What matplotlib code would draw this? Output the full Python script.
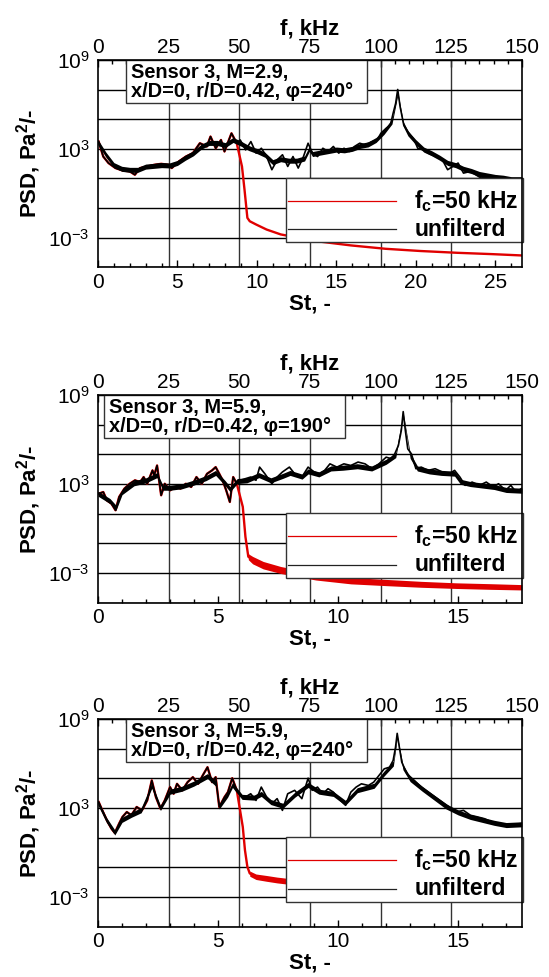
import numpy as np
import matplotlib
matplotlib.use('Agg')
import matplotlib.pyplot as plt
from matplotlib.patches import Rectangle
from matplotlib.ticker import FixedLocator, MultipleLocator, FuncFormatter

plt.rcParams['font.family'] = ['Liberation Sans', 'DejaVu Sans']
plt.rcParams['mathtext.fontset'] = 'custom'
plt.rcParams['mathtext.rm'] = 'Liberation Sans'
plt.rcParams['mathtext.bf'] = 'Liberation Sans:bold'
plt.rcParams['mathtext.it'] = 'Liberation Sans:italic'

# ---------------- data ----------------
F_MAX = 150.0            # kHz, top axis range
F_CUT = 50.0             # kHz, filter cut-off
F_TICKS = [0, 25, 50, 75, 100, 125, 150]
LEGEND_LABELS = ['f$_\\mathbf{c}$=50 kHz', 'unfilterd']
ST_MAX = [26.67, 17.65, 17.65]
ST_TICKS = [[0, 5, 10, 15, 20, 25], [0, 5, 10, 15], [0, 5, 10, 15]]
TITLES = ['Sensor 3, M=2.9,\nx/D=0, r/D=0.42, \u03c6=240\u00b0',
          'Sensor 3, M=5.9,\nx/D=0, r/D=0.42, \u03c6=190\u00b0',
          'Sensor 3, M=5.9,\nx/D=0, r/D=0.42, \u03c6=240\u00b0']

# panel 1 : unfiltered spectrum (St, log10 PSD)
p1_st = [0.04, 0.33, 0.66, 1.1, 1.55, 1.99, 2.32, 2.65, 3.1, 3.54, 3.98, 4.42, 4.64, 5.09,
         5.53, 5.97, 6.41, 6.85, 7.08, 7.41, 7.74, 7.96, 8.4, 8.73, 8.95, 9.29, 9.62, 9.95,
         10.28, 10.61, 10.94, 11.28, 11.61, 11.94, 12.27, 12.6, 12.93, 13.22, 13.49, 13.82,
         14.15, 14.48, 14.81, 15.15, 15.48, 15.81, 16.14, 16.47, 16.8, 17.25, 17.58, 17.8,
         18.13, 18.4, 18.57, 18.73, 18.86, 19.01, 19.24, 19.57, 19.9, 20.12, 20.45, 20.78,
         21.23, 21.67, 22.0, 22.33, 22.66, 23.0, 23.44, 23.77, 24.1, 24.76, 25.65, 26.67]
p1_lg = [3.49, 2.48, 2.04, 1.7, 1.54, 1.48, 1.25, 1.7, 1.81, 1.92, 1.99, 1.92, 1.7, 2.15,
         2.48, 2.71, 3.38, 3.16, 3.83, 3.04, 3.6, 2.82, 4.05, 3.38, 3.6, 2.93, 3.49, 2.71,
         3.04, 2.48, 1.59, 2.26, 2.6, 1.81, 2.48, 1.7, 2.48, 3.38, 2.71, 2.48,
         3.04, 2.82, 3.16, 2.71, 3.04, 2.82, 3.16, 3.38, 3.27, 3.49, 3.6, 4.05,
         4.39, 4.61, 5.4, 6.07, 7.01, 5.85, 4.61, 4.05, 3.6, 3.04, 2.93, 2.71,
         2.48, 2.26, 1.59, 1.81, 2.04, 1.36, 1.48, 1.25, 1.03, 1.18, 1.03, 0.91]
# panel 1 : dense core of the noisy unfiltered trace (upper / lower edge, log10)
p1_nb_st = [0.0, 0.5, 1.0, 1.5, 2.0, 2.5, 3.0, 3.5, 4.0, 4.5, 5.0, 5.5, 6.0, 6.5, 7.0, 7.5,
            8.0, 8.5, 9.0, 9.5, 10.0, 10.5, 11.0, 11.5, 12.0, 12.5, 13.0, 13.3, 13.5, 14.0,
            14.5, 15.0, 15.5, 16.0, 16.5, 17.0, 17.5, 18.0, 18.5, 18.86, 19.2, 19.5, 20.0,
            20.5, 21.0, 21.5, 22.0, 22.5, 23.0, 23.5, 24.0, 24.5, 25.0, 25.5, 26.0, 26.67]
p1_nb_hi = [3.62, 2.77, 2.07, 1.82, 1.75, 1.75, 1.97, 2.02, 2.07, 2.05, 2.22, 2.57, 2.87, 3.32,
            3.57, 3.57, 3.42, 3.77, 3.52, 3.22, 3.02, 2.77, 2.27, 2.47, 2.37, 2.37, 2.52, 3.17,
            2.82, 2.92, 3.02, 3.12, 3.07, 3.17, 3.37, 3.47, 3.77, 4.32, 5.02, 6.9, 4.87, 4.22,
            3.62, 3.12, 2.87, 2.57, 2.22, 2.07, 1.82, 1.67, 1.47, 1.37, 1.27, 1.22, 1.12, 1.12]
p1_nb_lo = [3.28, 2.43, 1.73, 1.48, 1.41, 1.41, 1.63, 1.68, 1.73, 1.71, 1.88, 2.23, 2.53, 2.98,
            3.23, 3.23, 3.08, 3.43, 3.18, 2.88, 2.68, 2.43, 1.93, 2.13, 2.03, 2.03, 2.18, 2.83,
            2.48, 2.58, 2.68, 2.78, 2.73, 2.83, 3.03, 3.13, 3.43, 3.98, 4.68, 6.6, 4.53, 3.88,
            3.28, 2.78, 2.53, 2.23, 1.88, 1.73, 1.48, 1.33, 1.13, 1.03, 0.93, 0.88, 0.78, 0.78]
# panel 1 : filtered tail beyond cut-off
p1_tail_st = [9.06, 9.22, 9.4, 9.55, 9.95, 10.61, 11.5, 12.6, 13.7, 15.9, 18.1, 20.3, 22.6, 24.8, 26.67]
p1_tail_lg = [1.81, 0.24, -1.66, -1.89, -2.11, -2.45, -2.78, -3.0, -3.23, -3.52, -3.75, -3.9, -4.02, -4.11, -4.2]
p1_band_st = []
p1_band_hi = []
p1_band_lo = []

# panel 2
p2_st = [0.03, 0.22, 0.37, 0.56, 0.73, 0.88, 1.1, 1.32, 1.54, 1.76, 1.9, 2.05, 2.27, 2.34,
         2.46, 2.63, 2.78, 3.0, 3.22, 3.44, 3.66, 3.88, 4.1, 4.32, 4.54, 4.75, 4.9, 5.05,
         5.19, 5.34, 5.49, 5.63, 5.78, 5.93, 6.14, 6.36, 6.58, 6.73, 6.95, 7.24, 7.46, 7.68,
         7.97, 8.19, 8.49, 8.75, 9.0, 9.22, 9.44, 9.66, 9.95, 10.24, 10.53, 10.83, 11.12,
         11.41, 11.7, 12.0, 12.22, 12.36, 12.51, 12.63, 12.71, 12.8, 12.9, 13.05, 13.24,
         13.46, 13.75, 14.04, 14.34, 14.63, 14.85, 15.07, 15.29, 15.58, 15.88, 16.17, 16.46,
         16.68, 16.97, 17.19, 17.41, 17.63]
p2_lg = [2.35, 2.46, 1.9, 1.68, 1.23, 2.13, 2.69, 3.02, 3.25, 3.13, 3.47, 3.02, 3.92, 3.58,
         4.25, 2.24, 3.02, 2.57, 2.8, 2.69, 3.02, 2.8, 3.47, 3.02, 3.69, 3.92, 4.14, 3.69,
         3.25, 2.57, 1.79, 3.47, 3.02, 3.25, 3.36, 3.47, 3.25, 4.14, 3.69, 3.02, 3.47, 3.81,
         4.14, 3.69, 3.47, 4.14, 3.81, 3.69, 3.92, 4.36, 4.14, 4.36, 4.25, 4.48, 4.36,
         4.03, 4.36, 4.81, 4.7, 5.04, 5.6, 6.6, 7.88, 6.6, 5.37, 5.04, 4.03,
         4.14, 3.92, 4.03, 3.81, 3.69, 3.92, 3.47, 2.91, 3.13, 2.91, 3.13, 2.8,
         3.02, 2.57, 2.91, 2.46, 2.69]
p2_nb_st = [0.0, 0.5, 0.75, 1.0, 1.5, 2.0, 2.46, 2.7, 3.0, 3.5, 4.0, 4.5, 4.9, 5.3, 5.5, 5.8,
            6.2, 6.7, 7.2, 7.7, 8.0, 8.5, 8.75, 9.2, 9.7, 10.2, 10.8, 11.4, 12.0, 12.4, 12.71,
            13.0, 13.3, 13.8, 14.3, 14.85, 15.1, 15.5, 16.0, 16.5, 17.0, 17.65]
p2_nb_hi = [2.52, 2.02, 1.57, 2.62, 3.22, 3.42, 3.77, 2.92, 2.92, 3.02, 3.27, 3.57, 3.92, 3.22,
            2.82, 3.37, 3.42, 3.77, 3.42, 3.72, 3.92, 3.67, 4.02, 3.82, 4.22, 4.27, 4.37, 4.22,
            4.67, 5.12, 7.8, 5.07, 4.22, 4.02, 3.92, 3.87, 3.32, 3.17, 3.07, 2.97, 2.77, 2.72]
p2_nb_lo = [2.18, 1.68, 1.23, 2.28, 2.88, 3.08, 3.43, 2.58, 2.58, 2.68, 2.93, 3.23, 3.58, 2.88,
            2.48, 3.03, 3.08, 3.43, 3.08, 3.38, 3.58, 3.33, 3.68, 3.48, 3.88, 3.93, 4.03, 3.88,
            4.33, 4.78, 7.6, 4.73, 3.88, 3.68, 3.58, 3.53, 2.98, 2.83, 2.73, 2.63, 2.43, 2.38]
p2_tail_st = [6.03, 6.14, 6.26, 6.44, 6.88, 7.61, 9.07, 10.53, 12.0, 13.46, 14.92, 16.39, 17.65]
p2_tail_lg = [1.46, -0.56, -1.9, -2.12, -2.46, -2.79, -3.24, -3.51, -3.64, -3.76, -3.85, -3.91, -3.96]
p2_band_st = [6.26, 6.44, 6.88, 7.61, 9.07, 10.53, 12.0, 13.46, 14.92, 16.39, 17.65]
p2_band_hi = [-1.7, -1.88, -2.22, -2.56, -3.02, -3.3, -3.43, -3.56, -3.66, -3.72, -3.78]
p2_band_lo = [-2.1, -2.38, -2.72, -3.03, -3.47, -3.73, -3.85, -3.96, -4.04, -4.1, -4.14]

# panel 3
p3_st = [0.03, 0.18, 0.37, 0.56, 0.7, 0.88, 1.02, 1.2, 1.39, 1.61, 1.83, 2.05, 2.24, 2.41,
         2.6, 2.78, 3.0, 3.15, 3.29, 3.51, 3.73, 3.95, 4.17, 4.36, 4.56, 4.75, 4.9, 5.05,
         5.27, 5.41, 5.59, 5.78, 5.93, 6.14, 6.36, 6.58, 6.8, 7.02, 7.24, 7.46, 7.68, 7.9,
         8.19, 8.49, 8.75, 8.92, 9.14, 9.36, 9.58, 9.8, 10.02, 10.31, 10.53, 10.75, 10.97,
         11.26, 11.48, 11.7, 11.92, 12.14, 12.29, 12.39, 12.46, 12.55, 12.65, 12.87, 13.17,
         13.46, 13.75, 14.04, 14.34, 14.63, 14.92, 15.22, 15.51, 15.8, 16.09, 16.39, 16.68,
         16.97, 17.27, 17.65]
p3_lg = [3.4, 2.84, 2.17, 1.61, 1.32, 1.95, 2.4, 2.73, 2.51, 3.07, 2.84, 3.51, 4.86, 3.74,
         2.96, 3.51, 4.41, 3.96, 4.63, 4.19, 4.74, 5.08, 4.63, 5.19, 5.75, 4.74, 5.08, 3.07,
         3.74, 4.07, 5.01, 4.19, 3.85, 3.74, 3.96, 3.51, 4.41, 3.74, 3.29, 3.63, 2.84, 3.96,
         4.19, 3.63, 5.01, 4.19, 4.41, 3.96, 4.3, 4.07, 3.63, 3.18, 4.07, 4.41, 4.63,
         4.52, 4.74, 5.19, 5.64, 5.75, 6.2, 7.09, 8.03, 7.09, 6.09, 5.3, 4.86,
         4.41, 4.07, 3.74, 3.4, 3.07, 2.73, 2.84, 2.51, 2.4, 2.28, 2.06, 1.95,
         1.84, 1.9, 1.95]
p3_nb_st = [0.0, 0.35, 0.7, 1.0, 1.4, 1.8, 2.24, 2.6, 3.0, 3.5, 4.0, 4.56, 4.9, 5.05, 5.4,
            5.6, 6.0, 6.5, 6.8, 7.2, 7.7, 8.2, 8.75, 9.2, 9.8, 10.3, 10.8, 11.5, 11.9, 12.3,
            12.46, 12.7, 13.0, 13.5, 14.0, 14.5, 15.0, 15.5, 16.0, 16.5, 17.0, 17.65]
p3_nb_hi = [3.52, 2.37, 1.52, 2.37, 2.72, 3.02, 4.67, 3.17, 4.27, 4.47, 4.82, 5.32, 4.82, 3.27,
            4.07, 4.72, 3.92, 3.87, 4.12, 3.57, 3.32, 4.07, 4.72, 4.27, 4.12, 3.52, 4.37, 4.67,
            5.47, 6.17, 7.9, 5.92, 5.12, 4.47, 3.87, 3.27, 2.87, 2.57, 2.37, 2.17, 2.02, 2.07]
p3_nb_lo = [3.18, 2.03, 1.18, 2.03, 2.38, 2.68, 4.33, 2.83, 3.93, 4.13, 4.48, 4.98, 4.48, 2.93,
            3.73, 4.38, 3.58, 3.53, 3.78, 3.23, 2.98, 3.73, 4.38, 3.93, 3.78, 3.18, 4.03, 4.33,
            5.13, 5.83, 7.7, 5.58, 4.78, 4.13, 3.53, 2.93, 2.53, 2.23, 2.03, 1.83, 1.68, 1.73]
p3_tail_st = [6.03, 6.12, 6.22, 6.32, 6.58, 7.02, 7.46, 7.83, 9.0, 11.0, 13.0, 15.0, 17.65]
p3_tail_lg = [1.72, 0.16, -0.96, -1.41, -1.63, -1.74, -1.85, -1.92, -2.02, -2.12, -2.18, -2.22, -2.26]
p3_band_st = [6.32, 6.58, 7.02, 7.46, 7.83, 9.0, 11.0, 13.0, 15.0, 17.65]
p3_band_hi = [-1.25, -1.45, -1.55, -1.66, -1.73, -1.83, -1.93, -1.99, -2.03, -2.07]
p3_band_lo = [-1.6, -1.82, -1.94, -2.05, -2.12, -2.22, -2.32, -2.38, -2.42, -2.46]

PANELS = [
    (p1_st, p1_lg, p1_nb_st, p1_nb_hi, p1_nb_lo, p1_tail_st, p1_tail_lg, p1_band_st, p1_band_hi, p1_band_lo),
    (p2_st, p2_lg, p2_nb_st, p2_nb_hi, p2_nb_lo, p2_tail_st, p2_tail_lg, p2_band_st, p2_band_hi, p2_band_lo),
    (p3_st, p3_lg, p3_nb_st, p3_nb_hi, p3_nb_lo, p3_tail_st, p3_tail_lg, p3_band_st, p3_band_hi, p3_band_lo),
]

# ---------------- layout / style ----------------
AX_RECTS = [(0.1785, 0.7264, 0.772, 0.2122),
            (0.1785, 0.3831, 0.772, 0.2126),
            (0.1785, 0.0515, 0.772, 0.2126)]
BOX_X = [(0.066, 0.635), (0.015, 0.582), (0.066, 0.635)]
RED = '#e00000'
TICK_FS = 15
LABEL_FS = 16

fig = plt.figure(figsize=(5.49, 9.77), dpi=100)

for i, (st, lg, nst, nhi, nlo, tst, tlg, bst, bhi, blo) in enumerate(PANELS):
    ax = fig.add_axes(AX_RECTS[i])
    smax = ST_MAX[i]
    s2f = lambda s, m=smax: np.asarray(s) * F_MAX / m
    f2s = lambda f, m=smax: np.asarray(f) * m / F_MAX

    st = np.asarray(st); psd = 10.0 ** np.asarray(lg)
    st_cut = float(f2s(F_CUT))
    keep = st <= st_cut
    red_st = np.concatenate([st[keep], tst])
    red_psd = np.concatenate([psd[keep], 10.0 ** np.asarray(tlg)])

    ax.set_yscale('log')
    ax.set_xlim(0, smax)
    ax.set_ylim(1e-5, 1e9)

    # grid: horizontal every two decades, vertical at the kHz ticks
    ax.yaxis.set_major_locator(FixedLocator([10.0 ** e for e in range(-5, 10, 2)]))
    ax.yaxis.set_minor_locator(FixedLocator([]))
    ax.yaxis.set_major_formatter(FuncFormatter(
        lambda v, p: '$\\mathregular{10^{%d}}$' % round(np.log10(v)) if round(np.log10(v)) in (9, 3, -3) else ''))
    ax.yaxis.grid(True, color='black', lw=1.0, zorder=1)
    for f in F_TICKS[1:-1]:
        ax.axvline(float(f2s(f)), color='#333333', lw=1.0, zorder=1)

    # data
    ax.plot(red_st, red_psd, color=RED, lw=1.7, zorder=2)
    if len(bst):
        ax.fill_between(bst, 10.0 ** np.asarray(blo), 10.0 ** np.asarray(bhi),
                        color=RED, lw=0, zorder=2)
    ax.fill_between(nst, 10.0 ** np.asarray(nlo), 10.0 ** np.asarray(nhi),
                    color='black', lw=0, zorder=3)
    ax.plot(st, psd, color='black', lw=1.2, zorder=3)

    # ticks
    ax.set_xticks(ST_TICKS[i])
    ax.xaxis.set_minor_locator(MultipleLocator(1))
    ax.tick_params(axis='x', which='major', direction='in', length=5, width=1,
                   labelsize=TICK_FS, pad=4, top=False)
    ax.tick_params(axis='x', which='minor', direction='in', length=3, width=1, top=False)
    ax.tick_params(axis='y', which='both', direction='in', length=0, labelsize=TICK_FS, pad=6)
    for sp in ax.spines.values():
        sp.set_linewidth(1.2)
        sp.set_zorder(7)

    sec = ax.secondary_xaxis('top', functions=(s2f, f2s))
    sec.set_xticks(F_TICKS)
    sec.xaxis.set_minor_locator(MultipleLocator(5))
    sec.tick_params(axis='x', which='major', direction='in', length=5, width=1,
                    labelsize=TICK_FS, pad=2)
    sec.tick_params(axis='x', which='minor', direction='in', length=3, width=1)
    sec.set_xlabel('f, kHz', fontsize=LABEL_FS, fontweight='bold', labelpad=3)

    ax.set_xlabel('St, -', fontsize=LABEL_FS, fontweight='bold', labelpad=1)
    ax.set_ylabel('PSD, Pa$^\\mathbf{2}$/-', fontsize=LABEL_FS, fontweight='bold', labelpad=4)

    # annotation box
    x0, x1 = BOX_X[i]
    ax.add_patch(Rectangle((x0, 0.792), x1 - x0, 0.208, transform=ax.transAxes,
                           facecolor='white', edgecolor='#333333', lw=1.0, zorder=5))
    ax.text(x0 + 0.011, 0.896, TITLES[i], transform=ax.transAxes, ha='left', va='center',
            fontsize=14.4, fontweight='bold', linespacing=1.0, zorder=6)

    # legend
    ax.add_patch(Rectangle((0.443, 0.12), 0.559, 0.312, transform=ax.transAxes,
                           facecolor='white', edgecolor='#333333', lw=1.0, zorder=5, clip_on=False))
    ax.plot([0.449, 0.702], [0.32, 0.32], transform=ax.transAxes, color=RED, lw=0.9, zorder=6)
    ax.plot([0.449, 0.702], [0.183, 0.183], transform=ax.transAxes, color='#222222', lw=0.9, zorder=6)
    ax.text(0.746, 0.32, LEGEND_LABELS[0], transform=ax.transAxes, ha='left', va='center',
            fontsize=16.5, fontweight='bold', zorder=6)
    ax.text(0.746, 0.183, LEGEND_LABELS[1], transform=ax.transAxes, ha='left', va='center',
            fontsize=16.5, fontweight='bold', zorder=6)

fig.savefig('out.png', dpi=100)
